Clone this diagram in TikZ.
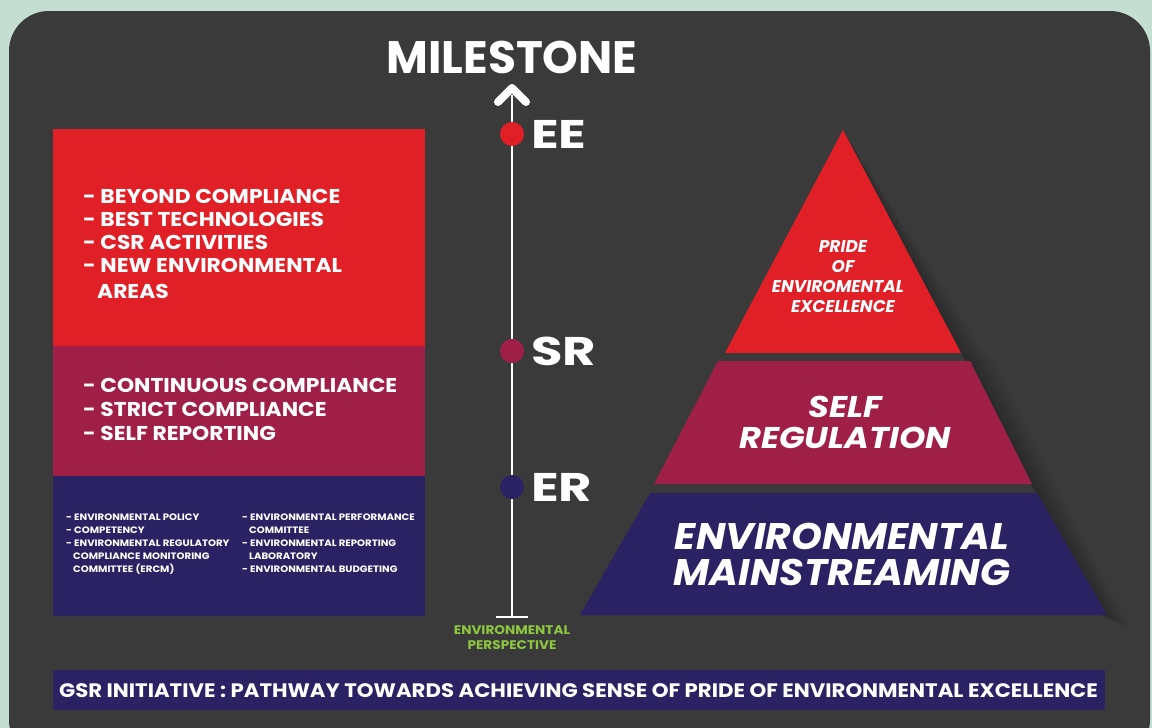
\documentclass[tikz,border=0pt]{standalone}
\usepackage{fontspec}
\setmainfont{Poppins}
\newfontfamily\wfont[FakeStretch=1.09]{Poppins}
\newfontfamily\xfont[FakeStretch=1.28]{Poppins}
\newfontfamily\pfont[FakeStretch=1.12]{Poppins}
\newfontfamily\qfont[FakeStretch=1.06]{Poppins}
\definecolor{bgout}{HTML}{C5DED2}
\definecolor{bgin}{HTML}{3A3A3A}
\definecolor{cred}{HTML}{E01F26}
\definecolor{ccrim}{HTML}{A01F47}
\definecolor{cnavy}{HTML}{2A2262}
\definecolor{cgreen}{HTML}{8DC63F}
\newcommand{\fs}[2]{\fontsize{#1}{#2}\selectfont}
\tikzset{
  txt/.style={text=white, inner sep=0pt},
  big/.style={txt, anchor=base west, font=\wfont\bfseries\fs{20}{23}},
  small/.style={txt, anchor=base west, font=\wfont\bfseries\fs{9.3}{13}},
  dot/.style={circle, inner sep=0pt, minimum size=24pt},
  lbl/.style={txt, anchor=base west, font=\xfont\bfseries\fs{40}{40}},
  pyr/.style={txt, align=center},
}
\begin{document}
\begin{tikzpicture}[x=1pt,y=-1pt]
\useasboundingbox (0,0) rectangle (1152,728);
\fill[bgout] (0,0) rectangle (1152,728);
\fill[bgin, rounded corners=40pt] (9,11) rectangle (1150,760);
% left boxes
\fill[cred] (53,129) rectangle (425,346);
\fill[ccrim] (53,346) rectangle (425,476);
\fill[cnavy] (53,476) rectangle (425,616);
\node[big] (r1) at (83,203) {- BEYOND COMPLIANCE};
\node[big] (r2) at (83,226) {- BEST TECHNOLOGIES};
\node[big] (r3) at (83,249) {- CSR ACTIVITIES};
\node[big] (r4) at (83,272) {- NEW ENVIRONMENTAL};
\node[big] (r5) at (97,298) {AREAS};
\node[big] (c1) at (83,392) {- CONTINUOUS COMPLIANCE};
\node[big] (c2) at (83,416) {- STRICT COMPLIANCE};
\node[big] (c3) at (83,440) {- SELF REPORTING};
\node[small] (n1) at (66,520) {- ENVIRONMENTAL POLICY};
\node[small] (n2) at (66,533) {- COMPETENCY};
\node[small] (n3) at (66,546) {- ENVIRONMENTAL REGULATORY};
\node[small] (n4) at (73,559) {COMPLIANCE MONITORING};
\node[small] (n5) at (73,572) {COMMITTEE (ERCM)};
\node[small] (m1) at (242,520) {- ENVIRONMENTAL PERFORMANCE};
\node[small] (m2) at (249,533) {COMMITTEE};
\node[small] (m3) at (242,546) {- ENVIRONMENTAL REPORTING};
\node[small] (m4) at (249,559) {LABORATORY};
\node[small] (m5) at (242,572) {- ENVIRONMENTAL BUDGETING};
% axis
\coordinate (top) at (512,88);
\coordinate (bot) at (512,617);
\coordinate (bl) at (496,617);
\coordinate (br) at (528,617);
\draw[white, line width=2.2pt] (bot) -- (512,95);
\draw[white, line width=2.5pt] (bl) -- (br);
\draw[white, line width=8pt, line cap=round, line join=round] (498,102) -- (top) -- (526,102);
\node[dot, fill=cred] (ee) at (512,134) {};
\node[dot, fill=ccrim] (sr) at (512,351) {};
\node[dot, fill=cnavy] (er) at (512,487) {};
\node[lbl] (eel) at (531,148) {EE};
\node[lbl] (srl) at (531,365) {SR};
\node[lbl] (erl) at (531,501) {ER};
\node[txt, anchor=base, font=\bfseries\fs{45.5}{45}] (ms) at (512,73) {MILESTONE};
\node[txt, anchor=base, text=cgreen, font=\wfont\bfseries\fs{12.5}{15}] (ep1) at (512,634) {ENVIRONMENTAL};
\node[txt, anchor=base, text=cgreen, font=\wfont\bfseries\fs{12.5}{15}] (ep2) at (512,649) {PERSPECTIVE};
% pyramid shadow
\foreach \d in {4,9,15,22}{
  \fill[black, opacity=0.06] (843,130) -- (961+\d,353) -- (970+\d,361) -- (1032+\d,484) -- (1037+\d,493) -- (1107+\d,615+\d*0.6) -- (1100,615) -- cycle;
}
% pyramid
\fill[cred] (843,130) -- (961,353) -- (725,353) -- cycle;
\fill[ccrim] (718,361) -- (970,361) -- (1032,484) -- (654,484) -- cycle;
\fill[cnavy] (650,493) -- (1037,493) -- (1107,615) -- (580,615) -- cycle;
\node[pyr, anchor=base, font=\bfseries\itshape\fs{17}{20}] (p1a) at (843,252) {PRIDE};
\node[pyr, anchor=base, font=\bfseries\itshape\fs{17}{20}] (p1b) at (843,272) {OF};
\node[pyr, anchor=base, font=\bfseries\itshape\fs{17}{20}] (p1c) at (838,292) {ENVIROMENTAL};
\node[pyr, anchor=base, font=\bfseries\itshape\fs{17}{20}] (p1d) at (843,312) {EXCELLENCE};
\node[pyr, anchor=base, font=\pfont\bfseries\itshape\fs{30}{30}] (p2a) at (845,417) {SELF};
\node[pyr, anchor=base, font=\pfont\bfseries\itshape\fs{30}{30}] (p2b) at (845,448) {REGULATION};
\node[pyr, anchor=base, font=\qfont\bfseries\itshape\fs{37}{34}] (p3a) at (842,549) {ENVIRONMENTAL};
\node[pyr, anchor=base, font=\qfont\bfseries\itshape\fs{37}{34}] (p3b) at (842,585) {MAINSTREAMING};
% banner
\fill[cnavy] (53,670) rectangle (1105,710);
\node[txt, anchor=base, font=\wfont\bfseries\fs{19.5}{20}] (bn) at (578.5,697) {GSR INITIATIVE : PATHWAY TOWARDS ACHIEVING SENSE OF PRIDE OF ENVIRONMENTAL EXCELLENCE};
\end{tikzpicture}
\end{document}
